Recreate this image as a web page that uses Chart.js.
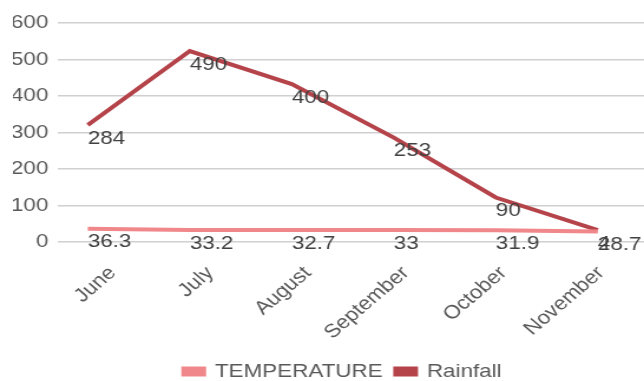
<!DOCTYPE html>
<html>
<head>
<meta charset="utf-8">
<script src="https://cdn.jsdelivr.net/npm/chart.js@4.4.1/dist/chart.umd.min.js"></script>
<style>
  html, body { margin: 0; padding: 0; background: #fff; overflow: hidden; }
  /* the chart is drawn narrow and widened, giving the broad lettering */
  #wrap { width: 546px; height: 381px; transform: scaleX(1.1795); transform-origin: 0 0; }
  canvas { display: block; }
</style>
</head>
<body>
<div id="wrap"><canvas id="chart" width="546" height="381"></canvas></div>
<script>
const months = ['June', 'July', 'August', 'September', 'October', 'November'];
const temperature = [36.3, 33.2, 32.7, 33, 31.9, 28.7];
const rainfall = [284, 490, 400, 253, 90, 4];
const yTicks = [0, 100, 200, 300, 400, 500, 600];

const FONT = '"Liberation Sans", Arial, sans-serif';
const TEXT = '#595959';
const LABEL = '#404040';
const PINK = '#F0878B';
const DARK = '#B5434A';

const toPoints = (values) => values.map((v, i) => ({ x: i, y: v }));

// value labels, left-aligned at each point and just below it
const valueLabels = {
  id: 'valueLabels',
  afterDatasetsDraw(chart) {
    const ctx = chart.ctx;
    ctx.save();
    ctx.font = '19px ' + FONT;
    ctx.fillStyle = LABEL;
    ctx.textAlign = 'left';
    ctx.textBaseline = 'top';
    chart.data.datasets.forEach((ds, di) => {
      const meta = chart.getDatasetMeta(di);
      meta.data.forEach((pt, i) => {
        ctx.fillText(String(ds.values[i]), pt.x, pt.y + 4);
      });
    });
    ctx.restore();
  }
};

// nudge the legend a little to the right of centre
const legendShift = {
  id: 'legendShift',
  afterLayout(chart) {
    if (chart.legend) {
      chart.legend.left += 12;
      chart.legend.right += 12;
    }
  }
};

new Chart(document.getElementById('chart'), {
  type: 'line',
  data: {
    labels: months,
    datasets: [
      {
        label: 'TEMPERATURE',
        values: temperature,
        data: toPoints(temperature),
        xAxisID: 'xp',
        borderColor: PINK,
        backgroundColor: PINK,
        borderWidth: 4,
        pointRadius: 0,
        tension: 0
      },
      {
        label: 'Rainfall',
        values: rainfall,
        data: toPoints(rainfall),
        xAxisID: 'xp',
        borderColor: DARK,
        backgroundColor: DARK,
        borderWidth: 4,
        pointRadius: 0,
        tension: 0
      }
    ]
  },
  options: {
    responsive: false,
    animation: false,
    devicePixelRatio: 1,
    layout: { padding: { left: 11, top: 23, right: 0, bottom: -10 } },
    plugins: {
      legend: {
        position: 'bottom',
        labels: {
          color: TEXT,
          font: { family: FONT, size: 19 },
          boxWidth: 17,
          boxHeight: 6,
          padding: 11
        }
      },
      tooltip: { enabled: false }
    },
    scales: {
      x: {
        type: 'category',
        offset: true,
        grid: { display: false, drawTicks: false },
        border: { display: false },
        ticks: {
          color: TEXT,
          font: { family: FONT, size: 19 },
          minRotation: 45,
          maxRotation: 45,
          padding: 20,
          labelOffset: 5
        },
        afterFit(scale) { scale.height = 109; }
      },
      xp: {
        type: 'linear',
        display: false,
        min: -0.294,
        max: 5.453
      },
      y: {
        stacked: true,
        min: 0,
        max: 600,
        afterBuildTicks(scale) { scale.ticks = yTicks.map(v => ({ value: v })); },
        grid: { color: '#D0D0D0', lineWidth: 1.5, drawTicks: false },
        border: { display: false },
        ticks: {
          color: TEXT,
          font: { family: FONT, size: 19 },
          padding: 8
        },
        afterFit(scale) { scale.width = 38; }
      }
    }
  },
  plugins: [valueLabels, legendShift]
});
</script>
</body>
</html>
